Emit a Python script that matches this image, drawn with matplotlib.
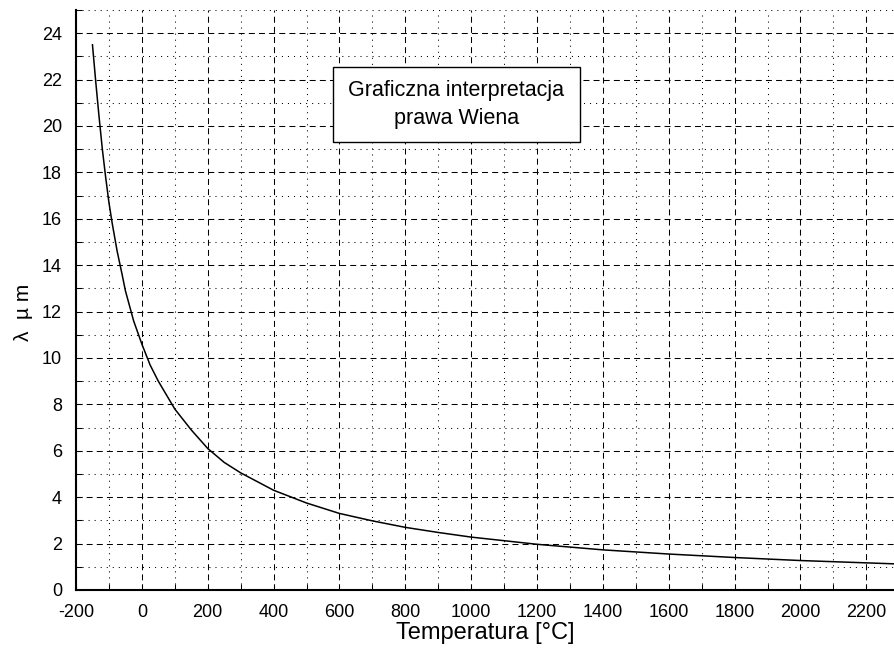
import matplotlib
matplotlib.use("Agg")
import matplotlib.pyplot as plt
from matplotlib.ticker import MultipleLocator
from matplotlib.patches import Rectangle

# Data
temperature_c = [-150, -145, -140, -130, -125, -120, -110, -100, -90, -75, -60, -50,
                 -25, 0, 25, 50, 75, 100, 150, 200, 250, 300, 400, 500, 600, 700,
                 800, 900, 1000, 1200, 1400, 1600, 1800, 2000, 2200, 2300]
wavelength_um = [23.5, 22.7, 21.9, 20.4, 19.7, 19.0, 17.8, 16.7, 15.8, 14.6, 13.6, 12.9,
                 11.6, 10.6, 9.7, 9.0, 8.4, 7.8, 6.9, 6.1, 5.5, 5.05, 4.3, 3.75, 3.3, 2.98,
                 2.7, 2.48, 2.28, 1.97, 1.73, 1.55, 1.40, 1.27, 1.17, 1.12]

x_ticks = list(range(-200, 2201, 200))
y_ticks = list(range(0, 25, 2))
x_label = "Temperatura [°C]"
y_label = "λ  µ m"
note = "Graficzna interpretacja\nprawa Wiena"

plt.rcParams['font.family'] = ['Liberation Sans', 'DejaVu Sans']
plt.rcParams['lines.scale_dashes'] = False
plt.rcParams['axes.unicode_minus'] = False

fig = plt.figure(figsize=(8.95, 6.52), dpi=100)
ax = fig.add_axes([76 / 895, 62 / 652, 1 - 76 / 895, 580 / 652])

ax.plot(temperature_c, wavelength_um, color='black', lw=1.1)

ax.set_xlim(-200, 2287)
ax.set_ylim(0, 25)
ax.set_xticks(x_ticks)
ax.set_yticks(y_ticks)
ax.xaxis.set_minor_locator(MultipleLocator(100))
ax.yaxis.set_minor_locator(MultipleLocator(1))

ax.grid(which='major', color='black', lw=0.75, linestyle=(0, (4.3, 3.0)))
ax.grid(which='minor', color='black', lw=0.75, linestyle=(0, (0.75, 3.6)))

for s in ['top', 'right']:
    ax.spines[s].set_visible(False)
for s in ['left', 'bottom']:
    ax.spines[s].set_linewidth(1.5)

ax.tick_params(which='both', direction='in', labelsize=13, width=0.75)
ax.tick_params(which='both', length=4)
ax.tick_params(axis='y', which='major', pad=10)
ax.tick_params(axis='x', which='major', pad=10)

ax.set_xlabel(x_label, fontsize=17, labelpad=1)
ax.set_ylabel(y_label, fontsize=15, labelpad=8)
ax.yaxis.set_label_coords(-0.053, 0.478)

# annotation box
bx0, bx1 = (333 - 76) / 819, (580 - 76) / 819
by0, by1 = (590 - 142) / 580, (590 - 67) / 580
ax.add_patch(Rectangle((bx0, by0), bx1 - bx0, by1 - by0, transform=ax.transAxes,
                       facecolor='white', edgecolor='black', lw=1.0, zorder=5))
ax.text((bx0 + bx1) / 2, (by0 + by1) / 2, note, transform=ax.transAxes,
        ha='center', va='center', fontsize=15.5, linespacing=1.4, zorder=6)

fig.savefig("out.png", dpi=100)
